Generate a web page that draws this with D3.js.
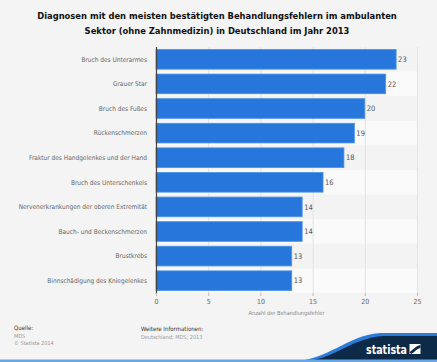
<!DOCTYPE html>
<html><head><meta charset="utf-8">
<script src="https://cdn.jsdelivr.net/npm/d3@7"></script>
<style>
html,body{margin:0;padding:0;background:#f4f4f4;}
svg{display:block;}
</style></head>
<body>
<svg id="c" width="437" height="362"></svg>
<script>
const categories = ["Bruch des Unterarmes","Grauer Star","Bruch des Fußes","Rückenschmerzen","Fraktur des Handgelenkes und der Hand","Bruch des Unterschenkels","Nervenerkrankungen der oberen Extremität","Bauch- und Beckenschmerzen","Brustkrebs","Binnschädigung des Kniegelenkes"];
const values = [23,22,20,19,18,16,14,14,13,13];
const xTicks = [0,5,10,15,20,25];
const titleLines = ["Diagnosen mit den meisten bestätigten Behandlungsfehlern im ambulanten","Sektor (ohne Zahnmedizin) in Deutschland im Jahr 2013"];
const axisTitle = "Anzahl der Behandlungsfehler";

const svg = d3.select("#c");
const W=437,H=362;
svg.append("rect").attr("width",W).attr("height",H).attr("fill","#f4f4f4");

const L=156,R=417,T=47,B=293;
const x = d3.scaleLinear().domain([0,25]).range([L,R]);
const y = d3.scaleBand().domain(categories).range([T,B]).paddingInner(0.2).paddingOuter(0.1);

// stripes
svg.append("g").selectAll("rect").data(categories).join("rect")
  .attr("x",L).attr("width",R-L)
  .attr("y",(d,i)=>T+i*(B-T)/categories.length).attr("height",(B-T)/categories.length)
  .attr("fill",(d,i)=>i%2?"#fafafa":"#f3f3f3");

// grid
svg.append("g").selectAll("line").data(xTicks.slice(1)).join("line")
  .attr("x1",d=>x(d)+0.5).attr("x2",d=>x(d)+0.5).attr("y1",T).attr("y2",B)
  .attr("stroke","#e3e3e3").attr("stroke-width",1);

// bars
svg.append("g").selectAll("rect").data(values).join("rect")
  .attr("x",L).attr("y",(d,i)=>y(categories[i]))
  .attr("width",d=>x(d)-L).attr("height",y.bandwidth())
  .attr("fill","#2776dc").attr("stroke","#4d92ea").attr("stroke-width",0.8);

const ff="'DejaVu Sans Condensed','DejaVu Sans',sans-serif";

// value labels
svg.append("g").selectAll("text").data(values).join("text")
  .attr("x",d=>x(d)+2).attr("y",(d,i)=>y(categories[i])+y.bandwidth()/2)
  .attr("dy","0.35em").text(d=>d)
  .attr("font-family",ff).attr("font-size",7.5).attr("fill","#555");

// category labels
svg.append("g").selectAll("text").data(categories).join("text")
  .attr("x",147).attr("y",d=>y(d)+y.bandwidth()/2).attr("dy","0.35em")
  .attr("text-anchor","end").text(d=>d)
  .attr("font-family",ff).attr("font-size",6.5).attr("fill","#666");

// axis line
svg.append("line").attr("x1",L+0.5).attr("x2",L+0.5).attr("y1",T).attr("y2",B+1)
  .attr("stroke","#444").attr("stroke-width",1.2);

// x axis
const xa = svg.append("g").attr("transform",`translate(0,${B})`)
  .call(d3.axisBottom(x).tickValues(xTicks).tickSize(3).tickPadding(3));
xa.select(".domain").remove();
xa.selectAll("line").attr("stroke","#bbb");
xa.selectAll("text").attr("font-family",ff).attr("font-size",7).attr("fill","#666");

svg.append("text").attr("x",(L+R)/2).attr("y",315).attr("text-anchor","middle")
  .attr("font-family",ff).attr("font-size",5.6).attr("fill","#888").text(axisTitle);

// title
svg.append("g").selectAll("text").data(titleLines).join("text")
  .attr("x",217).attr("y",(d,i)=>19+i*15).attr("text-anchor","middle")
  .attr("font-family","'DejaVu Sans',sans-serif").attr("font-weight","bold").attr("font-size",8.4).attr("fill","#111").text(d=>d);

// footer
svg.append("text").attr("x",14).attr("y",330).attr("font-family",ff).attr("font-size",6).attr("fill","#333").text("Quelle:");
svg.append("text").attr("x",14).attr("y",338).attr("font-family",ff).attr("font-size",5.5).attr("fill","#999").text("MDS");
svg.append("text").attr("x",14).attr("y",345).attr("font-family",ff).attr("font-size",5.5).attr("fill","#999").text("© Statista 2014");
svg.append("text").attr("x",141).attr("y",331).attr("font-family",ff).attr("font-size",6).attr("fill","#333").text("Weitere Informationen:");
svg.append("text").attr("x",141).attr("y",339).attr("font-family",ff).attr("font-size",5.5).attr("fill","#999").text("Deutschland; MDS; 2013");

// logo wave
svg.append("path").attr("d","M290,362 C330,360 345,336 380,333 L437,333 L437,362 Z").attr("fill","#2b7bd8");
svg.append("path").attr("d","M300,362 C335,360 350,338 384,336 L437,336 L437,362 Z").attr("fill","#0d2a48");
svg.append("rect").attr("x",0).attr("y",359.5).attr("width",W).attr("height",2.5).attr("fill","#6aa6e4");
svg.append("text").attr("x",366).attr("y",354).attr("font-family","'DejaVu Sans Condensed','DejaVu Sans',sans-serif").attr("font-weight","bold").attr("font-size",11.5)
  .attr("textLength",41).attr("lengthAdjust","spacingAndGlyphs").attr("fill","#fff").text("statista");
svg.append("rect").attr("x",409.5).attr("y",344).attr("width",11).attr("height",10).attr("fill","#fff");
svg.append("path").attr("d","M409.5,352 C413,350 415,346 420.5,345 L420.5,348 C416,349 414,353 411,354 Z").attr("fill","#0d2a48");
</script>
</body></html>
